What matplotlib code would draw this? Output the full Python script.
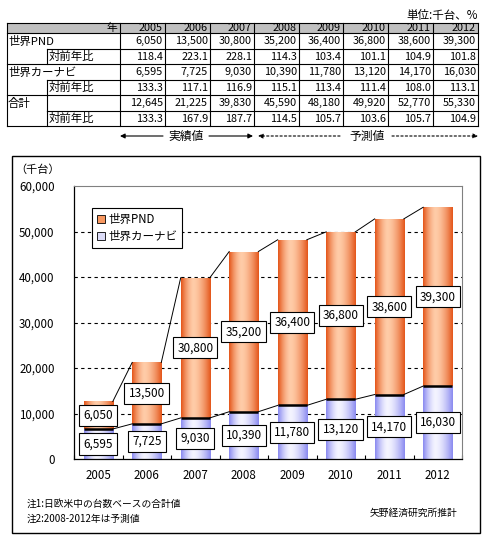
import numpy as np
import matplotlib
matplotlib.use("Agg")
import matplotlib.pyplot as plt
from matplotlib.patches import Patch, Rectangle

plt.rcParams['font.family'] = ['Noto Sans CJK JP', 'DejaVu Sans']

# data (thousand units)
years = [2005, 2006, 2007, 2008, 2009, 2010, 2011, 2012]
pnd = [6050, 13500, 30800, 35200, 36400, 36800, 38600, 39300]
pnd_yoy = [118.4, 223.1, 228.1, 114.3, 103.4, 101.1, 104.9, 101.8]
carnavi = [6595, 7725, 9030, 10390, 11780, 13120, 14170, 16030]
carnavi_yoy = [133.3, 117.1, 116.9, 115.1, 113.4, 111.4, 108.0, 113.1]
total = [12645, 21225, 39830, 45590, 48180, 49920, 52770, 55330]
total_yoy = [133.3, 167.9, 187.7, 114.5, 105.7, 103.6, 105.7, 104.9]

W, H = 487, 541
fig = plt.figure(figsize=(W / 100, H / 100), dpi=100)

# overlay in pixel coordinates for table / frame / notes
ov = fig.add_axes([0, 0, 1, 1])
ov.set_xlim(0, W)
ov.set_ylim(H, 0)
ov.axis('off')

fs = 7.8

# ---------- table ----------
ov.text(478, 15, "単位:千台、%", ha='right', va='center', fontsize=8.3)

col_edges = [120, 165, 210, 254, 299, 343, 388, 433, 478]
left, sub = 7, 47
top_hdr, top_body = 23, 33.3
rh = 15.5
row_tops = [top_body + rh * i for i in range(7)]

ov.add_patch(Rectangle((left, top_hdr), 478 - left, top_body - top_hdr,
                       facecolor='#c0c0c0', edgecolor='none', zorder=0))
ov.text(col_edges[0] - 3, (top_hdr + top_body) / 2, "年", ha='right', va='center', fontsize=fs)
for j, y in enumerate(years):
    ov.text(col_edges[j + 1] - 2, (top_hdr + top_body) / 2, str(y),
            ha='right', va='center', fontsize=fs)

rows = [("世界PND", None, pnd, True),
        (None, "対前年比", pnd_yoy, False),
        ("世界カーナビ", None, carnavi, True),
        (None, "対前年比", carnavi_yoy, False),
        ("合計", "", total, True),
        (None, "対前年比", total_yoy, False)]
for i, (main, subl, vals, is_int) in enumerate(rows):
    yc = row_tops[i] + rh / 2
    if main:
        ov.text(left + 1, yc, main, ha='left', va='center', fontsize=fs + 0.4)
    if subl:
        ov.text(sub + 2, yc, subl, ha='left', va='center', fontsize=fs + 0.4)
    for j, v in enumerate(vals):
        s = f"{v:,}" if is_int else f"{v:.1f}"
        ov.text(col_edges[j + 1] - 2, yc, s, ha='right', va='center', fontsize=fs)

lk = dict(color='black', lw=0.8)
ov.plot([left, 478], [top_hdr, top_hdr], **lk)
ov.plot([left, 478], [top_body, top_body], **lk)
for i in range(1, 7):
    y = row_tops[i]
    if i % 2 == 1:
        ov.plot([sub, 478], [y, y], **lk)
    else:
        ov.plot([left, 478], [y, y], **lk)
ov.plot([left, left], [top_hdr, row_tops[6]], **lk)
for x in col_edges:
    ov.plot([x, x], [top_hdr, row_tops[6]], **lk)
for i in [1, 3, 4, 5]:
    ov.plot([sub, sub], [row_tops[i], row_tops[i + 1]], **lk)

# arrows below table
ya = 136
ov.text(186, ya, "実績値", ha='center', va='center', fontsize=8.5)
ov.text(367, ya, "予測値", ha='center', va='center', fontsize=8.5)
ap = dict(arrowstyle='-|>', color='black', lw=0.8, mutation_scale=7, shrinkA=0, shrinkB=0)
ov.annotate("", xy=(120, ya), xytext=(163, ya), arrowprops=ap)
ov.annotate("", xy=(253, ya), xytext=(209, ya), arrowprops=ap)
apd = dict(ap, linestyle=(0, (2, 2)))
ov.annotate("", xy=(258, ya), xytext=(340, ya), arrowprops=apd)
ov.annotate("", xy=(478, ya), xytext=(392, ya), arrowprops=apd)

# chart frame
ov.add_patch(Rectangle((12, 156), 468, 377, facecolor='none', edgecolor='black', lw=1))
ov.text(15, 170, "（千台）", ha='left', va='center', fontsize=8)
ov.text(27, 504, "注1:日欧米中の台数ベースの合計値", ha='left', va='center', fontsize=7)
ov.text(27, 519, "注2:2008-2012年は予測値", ha='left', va='center', fontsize=7)
ov.text(457, 513, "矢野経済研究所推計", ha='right', va='center', fontsize=7)

# ---------- chart ----------
ax = fig.add_axes([74 / W, 1 - 459 / H, (462 - 74) / W, (459 - 186) / H])
x = np.arange(len(years))
w = 0.6


def gradient(edge, center, peak=0.42, n=64):
    t = np.linspace(0, 1, n)
    d = np.where(t < peak, (peak - t) / peak, (t - peak) / (1 - peak))
    f = 1 - d ** 1.6
    e = np.array(matplotlib.colors.to_rgb(edge))
    c = np.array(matplotlib.colors.to_rgb(center))
    return (e + (c - e) * f[:, None])[None, :, :]


g_blue = gradient('#8a8af0', '#f4f4ff')
g_orange = gradient('#e4561a', '#ffcca8')

b1 = ax.bar(x, carnavi, w, color='#c8c8ff', edgecolor='none', zorder=2)
b2 = ax.bar(x, pnd, w, bottom=carnavi, color='#f89860', edgecolor='none', zorder=2)
for bars, g in [(b1, g_blue), (b2, g_orange)]:
    for p in bars:
        x0, y0 = p.get_x(), p.get_y()
        im = ax.imshow(g, extent=[x0, x0 + p.get_width(), y0, y0 + p.get_height()],
                       aspect='auto', interpolation='bilinear', zorder=2.5)
        im.set_clip_path(p)

ax.hlines(carnavi, x - w / 2, x + w / 2, color='black', lw=1.8, zorder=3)

# series lines
for i in range(len(x) - 1):
    ax.plot([x[i] + w / 2, x[i + 1] - w / 2], [total[i], total[i + 1]], color='black', lw=0.7, zorder=3)
    ax.plot([x[i] + w / 2, x[i + 1] - w / 2], [carnavi[i], carnavi[i + 1]], color='black', lw=0.7, zorder=3)

box = dict(boxstyle='square,pad=0.35', facecolor='white', edgecolor='black', lw=0.8)
for i in range(len(x)):
    ax.text(x[i], carnavi[i] / 2, f"{carnavi[i]:,}", ha='center', va='center',
            fontsize=8.5, bbox=box, zorder=5)
    ax.text(x[i], carnavi[i] + pnd[i] / 2, f"{pnd[i]:,}", ha='center', va='center',
            fontsize=8.5, bbox=box, zorder=5)

ax.set_xlim(-0.5, len(x) - 0.5)
ax.set_ylim(0, 60000)
ax.set_yticks(range(0, 60001, 10000))
ax.set_yticklabels([f"{v:,}" for v in range(0, 60001, 10000)], fontsize=8.3)
ax.set_xticks(x)
ax.set_xticklabels([str(y) for y in years], fontsize=8.3)
ax.tick_params(axis='x', length=0, pad=7)
ax.tick_params(axis='y', length=0, pad=14)
ax.set_xticks(np.arange(-0.5, len(x)), minor=True)
ax.tick_params(axis='x', which='minor', direction='in', length=3, width=0.8)
for v in range(10000, 60000, 10000):
    ax.axhline(v, color='black', lw=0.8, linestyle=(0, (3, 3)), zorder=1)
ax.spines['top'].set_color('#808080')
ax.spines['right'].set_color('#808080')
ax.spines['left'].set_linewidth(0.9)
ax.spines['bottom'].set_linewidth(0.9)

handles = [Patch(facecolor='#f89860', edgecolor='black', lw=0.6, label='世界PND'),
           Patch(facecolor='#dcdcf8', edgecolor='black', lw=0.6, label='世界カーナビ')]
leg = ax.legend(handles=handles, loc='upper left', bbox_to_anchor=(92 / W, 1 - 208 / H),
                bbox_transform=fig.transFigure, fontsize=8.3, fancybox=False, framealpha=1,
                edgecolor='black', borderaxespad=0, handlelength=0.7, handleheight=0.7,
                handletextpad=0.3, labelspacing=0.4, borderpad=0.4)
leg.get_frame().set_linewidth(0.8)
leg.set_zorder(6)

fig.savefig("out.png", dpi=100)
